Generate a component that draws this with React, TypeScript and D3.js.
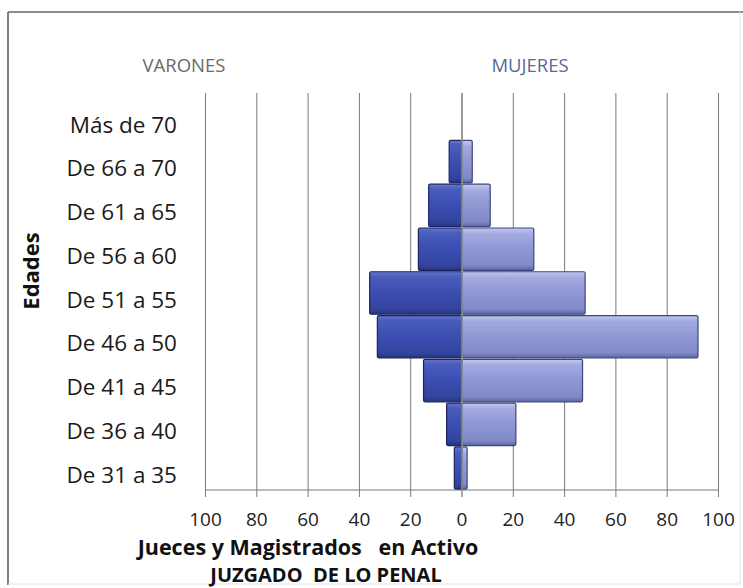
import React from "react";
import * as d3 from "d3";

const categories = [
  "Más de 70",
  "De 66 a 70",
  "De 61 a 65",
  "De 56 a 60",
  "De 51 a 55",
  "De 46 a 50",
  "De 41 a 45",
  "De 36 a 40",
  "De 31 a 35",
];
const varones = [0, 5, 13, 17, 36, 33, 15, 6, 3];
const mujeres = [0, 4, 11, 28, 48, 92, 47, 21, 2];
const tickValues = [-100, -80, -60, -40, -20, 0, 20, 40, 60, 80, 100];
const seriesNames = ["VARONES", "MUJERES"];
const axisTitle1 = "Jueces y Magistrados   en Activo";
const axisTitle2 = "JUZGADO  DE LO PENAL";
const yTitle = "Edades";

const W = 743;
const H = 588;
const plot = { left: 205.5, right: 718.5, top: 96, bottom: 490 };
const FONT = "'Open Sans', 'Noto Sans', sans-serif";

export default function App() {
  const x = d3.scaleLinear().domain([-100, 100]).range([plot.left, plot.right]);
  const y = d3
    .scaleBand<string>()
    .domain(categories)
    .range([plot.top, plot.bottom])
    .paddingInner(0.03)
    .paddingOuter(0.015);
  const step = y.step();

  return (
    <svg
      width={W}
      height={H}
      style={{ position: "absolute", left: 0, top: 0, background: "#fff" }}
    >
      <defs>
        <linearGradient id="gMen" x1="0" y1="0" x2="0" y2="1">
          <stop offset="0" stopColor="#6676cc" />
          <stop offset="0.12" stopColor="#4a5cbc" />
          <stop offset="0.5" stopColor="#3b4db0" />
          <stop offset="0.88" stopColor="#33449f" />
          <stop offset="1" stopColor="#263479" />
        </linearGradient>
        <linearGradient id="gWom" x1="0" y1="0" x2="0" y2="1">
          <stop offset="0" stopColor="#c4c9ee" />
          <stop offset="0.14" stopColor="#a3aae0" />
          <stop offset="0.5" stopColor="#8f97d4" />
          <stop offset="0.88" stopColor="#8189c8" />
          <stop offset="1" stopColor="#5c64a4" />
        </linearGradient>
      </defs>

      {/* outer frame */}
      <line x1={8} y1={12} x2={W} y2={12} stroke="#8c8c8c" strokeWidth={2} />
      <line x1={8} y1={12} x2={8} y2={585} stroke="#808080" strokeWidth={2} />
      <line x1={8} y1={584} x2={740} y2={584} stroke="#e2e2e2" strokeWidth={1} />
      <line x1={740} y1={12} x2={740} y2={584} stroke="#e6e6e6" strokeWidth={1} />

      {/* series labels */}
      <text x={184} y={72} textAnchor="middle" fontFamily={FONT} fontSize={18.5} fill="#6b6b6b">
        {seriesNames[0]}
      </text>
      <text x={530} y={72} textAnchor="middle" fontFamily={FONT} fontSize={18.5} fill="#5d6898">
        {seriesNames[1]}
      </text>

      {/* gridlines */}
      {tickValues.map((t) => (
        <line
          key={"g" + t}
          x1={x(t)}
          x2={x(t)}
          y1={93}
          y2={t === 0 ? plot.bottom : 497}
          stroke="#7a7a7a"
          strokeWidth={1}
        />
      ))}

      {/* bars */}
      {categories.map((c, i) => {
        const y0 = y(c)!;
        const bh = y.bandwidth();
        const m = varones[i];
        const f = mujeres[i];
        return (
          <g key={c}>
            {m > 0 && (
              <rect
                x={x(-m)}
                y={y0}
                width={x(0) - x(-m)}
                height={bh}
                fill="url(#gMen)"
                stroke="#1c2463"
                strokeWidth={1.2}
                rx={1.5}
              />
            )}
            {f > 0 && (
              <rect
                x={x(0)}
                y={y0}
                width={x(f) - x(0)}
                height={bh}
                fill="url(#gWom)"
                stroke="#3f4679"
                strokeWidth={1.2}
                rx={1.5}
              />
            )}
          </g>
        );
      })}

      {/* zero line over bars */}
      <line x1={x(0)} x2={x(0)} y1={93} y2={497} stroke="#8a968a" strokeWidth={1.5} />

      {/* bottom axis */}
      <line x1={plot.left} x2={plot.right} y1={plot.bottom} y2={plot.bottom} stroke="#7a7a7a" strokeWidth={1.2} />
      {tickValues.map((t) => (
        <text
          key={"t" + t}
          x={x(t)}
          y={526}
          textAnchor="middle"
          fontFamily={FONT}
          fontSize={19}
          fill="#222"
        >
          {Math.abs(t)}
        </text>
      ))}

      {/* category labels */}
      {categories.map((c) => (
        <text
          key={"l" + c}
          x={177}
          y={y(c)! + step / 2 + 14}
          textAnchor="end"
          fontFamily={FONT}
          fontSize={22.5}
          fill="#1a1a1a"
        >
          {c}
        </text>
      ))}

      {/* axis titles */}
      <text
        x={308}
        y={555}
        textAnchor="middle"
        fontFamily={FONT}
        fontSize={21.5}
        fontWeight="bold"
        fill="#111"
        style={{ whiteSpace: "pre" }}
      >
        {axisTitle1}
      </text>
      <text
        x={326}
        y={582}
        textAnchor="middle"
        fontFamily={FONT}
        fontSize={20}
        fontWeight="bold"
        fill="#111"
        style={{ whiteSpace: "pre" }}
      >
        {axisTitle2}
      </text>
      <text
        transform={`translate(39, 271) rotate(-90)`}
        textAnchor="middle"
        fontFamily={FONT}
        fontSize={22}
        fontWeight="bold"
        fill="#111"
      >
        {yTitle}
      </text>
    </svg>
  );
}
